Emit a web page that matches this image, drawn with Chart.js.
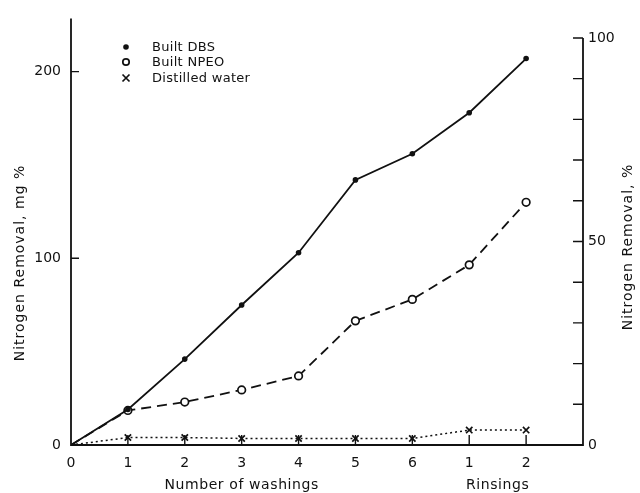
<!DOCTYPE html>
<html>
<head>
<meta charset="utf-8">
<script src="https://cdn.jsdelivr.net/npm/chart.js@4.4.1/dist/chart.umd.min.js"></script>
<style>
	html,body{margin:0;padding:0;background:#fff;}
	#wrap{width:640px;height:493px;position:relative;}
</style>
</head>
<body>
<div id="wrap"><canvas id="nitrogenChart"></canvas></div>
<script>
//x 위치 (0~6 세탁 횟수, 7~8 헹굼)
var xPos = [0, 1, 2, 3, 4, 5, 6, 7, 8];
var xLabels = ['0', '1', '2', '3', '4', '5', '6', '1', '2'];
//시리즈 값 (mg %)
var builtDBS = [0, 19, 46, 75, 103, 142, 156, 178, 207];
var builtNPEO = [0, 18.5, 23, 29.5, 37, 66.5, 78, 96.5, 130];
var distilledWater = [0, 4, 4, 3.5, 3.5, 3.5, 3.5, 8, 8];
//축 눈금
var leftTicks = [0, 100, 200];
var rightTicks = [0, 50, 100];
var rightMinorTicks = [10, 20, 30, 40, 50, 60, 70, 80, 90, 100];
var xMinorTicks = [1, 2, 3, 4, 5, 6, 7, 8];
var seriesNames = ['Built DBS', 'Built NPEO', 'Distilled water'];

var INK = '#111111';
var FONT = "'DejaVu Sans', sans-serif";

function toPoints(vals){
	var pts = [];
	for(var i=0;i<vals.length;i++) pts.push({x:xPos[i], y:vals[i]});
	return pts;
}
//원점은 마커 없음
function radii(r){
	var arr = [];
	for(var i=0;i<xPos.length;i++) arr.push(i==0?0:r);
	return arr;
}

//종이 그래프 스타일 축, 제목, 범례 그리기
var paperAxes = {
	id:'paperAxes',
	afterDraw:function(chart){
		var ctx = chart.ctx;
		var x = chart.scales.x, yl = chart.scales.y, yr = chart.scales.y2;
		var x0 = x.getPixelForValue(0), x9 = x.getPixelForValue(9);
		var yBottom = yl.getPixelForValue(0);
		ctx.save();
		ctx.strokeStyle = INK;
		ctx.fillStyle = INK;
		ctx.lineWidth = 1.8;
		ctx.setLineDash([]);
		ctx.beginPath();
		//왼쪽 축
		ctx.moveTo(x0, yl.top);
		ctx.lineTo(x0, yBottom);
		//아래 축
		ctx.lineTo(x9, yBottom);
		//오른쪽 축
		ctx.lineTo(x9, yr.getPixelForValue(100));
		ctx.stroke();
		ctx.lineWidth = 1.4;
		ctx.beginPath();
		for(var v of leftTicks){
			if(v==0) continue;
			var py = yl.getPixelForValue(v);
			ctx.moveTo(x0, py); ctx.lineTo(x0+8, py);
		}
		for(var v of rightMinorTicks){
			var py = yr.getPixelForValue(v);
			ctx.moveTo(x9, py); ctx.lineTo(x9-10, py);
		}
		for(var v of xMinorTicks){
			var px = x.getPixelForValue(v);
			ctx.moveTo(px, yBottom); ctx.lineTo(px, yBottom-10);
		}
		ctx.stroke();

		//축 제목
		ctx.font = '14px ' + FONT;
		ctx.letterSpacing = '0.6px';
		ctx.textAlign = 'center';
		ctx.textBaseline = 'middle';
		ctx.fillText('Number of washings', x.getPixelForValue(3), 485);
		ctx.fillText('Rinsings', x.getPixelForValue(7.5), 485);
		ctx.save();
		ctx.translate(20, 263);
		ctx.rotate(-Math.PI/2);
		ctx.letterSpacing = '1px';
		ctx.fillText('Nitrogen Removal, mg %', 0, 0);
		ctx.restore();
		ctx.save();
		ctx.translate(628, 247);
		ctx.rotate(-Math.PI/2);
		ctx.letterSpacing = '1px';
		ctx.fillText('Nitrogen Removal, %', 0, 0);
		ctx.restore();

		//범례
		var rows = [47, 62, 78];
		ctx.textAlign = 'left';
		ctx.font = '13px ' + FONT;
		ctx.letterSpacing = '0.3px';
		for(var i=0;i<seriesNames.length;i++){
			var ly = rows[i], lx = 126;
			ctx.lineWidth = 1.7;
			ctx.beginPath();
			if(i==0){
				ctx.arc(lx, ly, 2.8, 0, Math.PI*2);
				ctx.fill();
			}else if(i==1){
				ctx.arc(lx, ly, 3.2, 0, Math.PI*2);
				ctx.stroke();
			}else{
				ctx.moveTo(lx-3.5, ly-3.5); ctx.lineTo(lx+3.5, ly+3.5);
				ctx.moveTo(lx+3.5, ly-3.5); ctx.lineTo(lx-3.5, ly+3.5);
				ctx.stroke();
			}
			ctx.fillText(seriesNames[i], 152, ly+1);
		}
		ctx.restore();
	}
};

var nitrogenChart = new Chart(document.getElementById('nitrogenChart'), {
	type:'line',
	data:{
		datasets:[
			{
				label:seriesNames[0],
				data:toPoints(builtDBS),
				borderColor:INK,
				borderWidth:1.8,
				pointStyle:'circle',
				pointRadius:radii(2.8),
				pointBackgroundColor:INK,
				pointBorderColor:INK,
				pointBorderWidth:0,
				yAxisID:'y'
			},
			{
				label:seriesNames[1],
				data:toPoints(builtNPEO),
				borderColor:INK,
				borderWidth:1.8,
				borderDash:[10, 6],
				pointStyle:'circle',
				pointRadius:radii(3.8),
				pointBackgroundColor:'#ffffff',
				pointBorderColor:INK,
				pointBorderWidth:1.7,
				yAxisID:'y'
			},
			{
				label:seriesNames[2],
				data:toPoints(distilledWater),
				borderColor:INK,
				borderWidth:1.5,
				borderDash:[2, 3],
				pointStyle:'crossRot',
				pointRadius:radii(4.5),
				pointBorderColor:INK,
				pointBorderWidth:1.7,
				yAxisID:'y'
			}
		]
	},
	options:{
		responsive:true,
		maintainAspectRatio:false,
		animation:false,
		events:[],
		layout:{padding:{top:12, left:0, right:0, bottom:0}},
		plugins:{
			legend:{display:false},
			title:{display:false},
			tooltip:{enabled:false}
		},
		scales:{
			x:{
				type:'linear',
				min:0,
				max:9,
				border:{display:false},
				grid:{display:false, drawTicks:false},
				afterFit:function(scale){ scale.height = 48; },
				afterBuildTicks:function(scale){
					scale.ticks = xPos.map(function(v){ return {value:v}; });
				},
				ticks:{
					color:INK,
					padding:10,
					maxRotation:0,
					autoSkip:false,
					font:{family:FONT, size:14},
					callback:function(value){ return xLabels[xPos.indexOf(value)]; }
				}
			},
			y:{
				position:'left',
				min:0,
				max:228.5,
				border:{display:false},
				grid:{display:false, drawTicks:false},
				afterFit:function(scale){ scale.width = 71; },
				afterBuildTicks:function(scale){
					scale.ticks = leftTicks.map(function(v){ return {value:v}; });
				},
				ticks:{
					color:INK,
					padding:10,
					font:{family:FONT, size:14}
				}
			},
			y2:{
				position:'right',
				min:0,
				max:104.8,
				border:{display:false},
				grid:{display:false, drawTicks:false},
				afterFit:function(scale){ scale.width = 57; },
				afterBuildTicks:function(scale){
					scale.ticks = rightTicks.map(function(v){ return {value:v}; });
				},
				ticks:{
					color:INK,
					padding:5,
					font:{family:FONT, size:14}
				}
			}
		}
	},
	plugins:[paperAxes]
});
</script>
</body>
</html>
